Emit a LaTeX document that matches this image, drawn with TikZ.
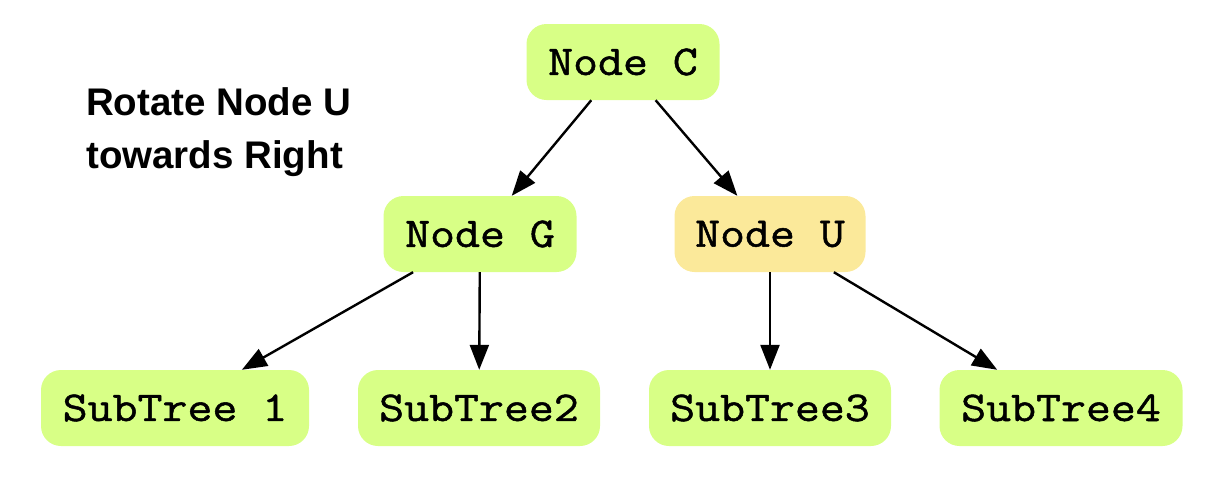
\documentclass[tikz,border=0pt]{standalone}
\usepackage{fontspec}
\setmonofont{Latin Modern Mono}[FakeStretch=1.14, FakeBold=1.2]
\newfontfamily\labelfont{Liberation Sans}
\usetikzlibrary{arrows.meta}
\definecolor{nodegreen}{HTML}{D8FF86}
\definecolor{nodeyellow}{HTML}{FBE99A}
\tikzset{
  treenode/.style={fill=nodegreen, draw=none, rounded corners=20pt, inner sep=0pt,
    font=\ttfamily\fontsize{42.5}{48}\selectfont, minimum height=76pt},
  hinode/.style={treenode, fill=nodeyellow},
  edge/.style={line width=2.4pt, -{Triangle[length=25pt,width=19pt]}},
}
\begin{document}
\begin{tikzpicture}[x=1pt,y=-1pt]
\useasboundingbox (0,0) rectangle (1224,496);
\node[treenode, minimum width=193pt] (C) at (623,62) {Node C};
\node[treenode, minimum width=193pt] (G) at (480,234) {Node G};
\node[hinode, minimum width=191pt] (U) at (770,234) {Node U};
\node[treenode, minimum width=268pt] (S1) at (175,408) {SubTree 1};
\node[treenode, minimum width=242pt] (S2) at (479,408) {SubTree2};
\node[treenode, minimum width=242pt] (S3) at (770,408) {SubTree3};
\node[treenode, minimum width=243pt] (S4) at (1061,408) {SubTree4};
\node[anchor=north west, inner sep=0pt, align=left,
  font=\labelfont\bfseries\fontsize{38.5}{53}\selectfont] (T) at (86,87)
  {Rotate Node U\\towards Right};
\draw[edge] (C) -- (G);
\draw[edge] (C) -- (U);
\draw[edge] (G) -- (S1);
\draw[edge] (G) -- (S2);
\draw[edge] (U) -- (S3);
\draw[edge] (U) -- (S4);
\end{tikzpicture}
\end{document}
